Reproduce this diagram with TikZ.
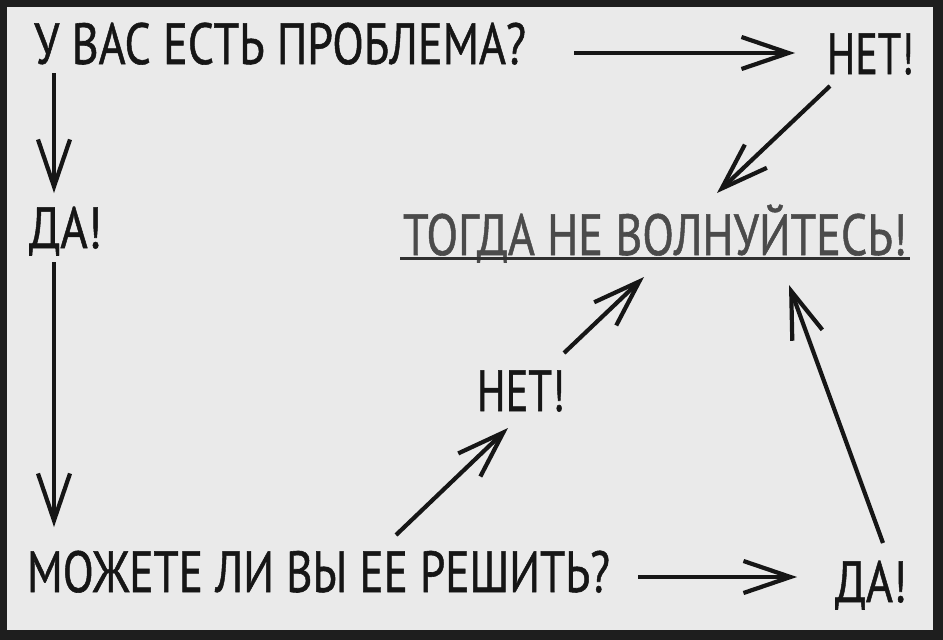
\documentclass[tikz,border=0pt]{standalone}
\usepackage{fontspec}
\setmainfont{PT Sans}
\newfontfamily\lblfont[FakeBold=1]{PT Sans}
\usetikzlibrary{arrows.meta,calc}
\definecolor{paper}{RGB}{234,234,234}
\definecolor{framec}{RGB}{30,30,30}
\definecolor{ink}{RGB}{22,22,22}
\definecolor{soft}{RGB}{75,75,75}
\definecolor{uline}{RGB}{48,48,48}
\newcommand\fitw[2]{\resizebox{#1}{\height}{#2}}
\begin{document}
\begin{tikzpicture}[x=1pt,y=-1pt,
  lbl/.style={inner sep=0pt,outer sep=0pt,anchor=base west,text=ink,
    font=\lblfont\fontsize{58pt}{60pt}\selectfont},
  arr/.style={draw=ink,line width=4.2pt,
    -{Straight Barb[length=47pt,width=32pt]}}]
\useasboundingbox (0,0) rectangle (943,640);
\fill[framec] (0,0) rectangle (943,640);
\fill[paper] (7,7) rectangle (933,630);

% texts
\node[lbl] (q1) at (34,64) {\fitw{492pt}{У ВАС ЕСТЬ ПРОБЛЕМА?}};
\node[lbl] (n1) at (827,74) {\fitw{87pt}{НЕТ!}};
\node[lbl] (d1) at (29,248) {\fitw{73pt}{ДА!}};
\node[lbl,text=soft] (t) at (403,255) {\fitw{504pt}{ТОГДА НЕ ВОЛНУЙТЕСЬ!}};
\node[lbl] (n2) at (477,411) {\fitw{88pt}{НЕТ!}};
\node[lbl] (q2) at (27,592) {\fitw{583pt}{МОЖЕТЕ ЛИ ВЫ ЕЕ РЕШИТЬ?}};
\node[lbl] (d2) at (835,602) {\fitw{72pt}{ДА!}};

% underline
\draw[uline,line width=3pt] ($(t.base west)+(-3,3)$) -- ($(t.base west)+(507,3)$);

% connectors
\draw[arr] ($(q1.base east)+(48,-11)$) -- ($(n1.base west)+(-32,-21)$);
\draw[arr] ($(n1.base west)+(3,12)$) -- ($(t.base west)+(314,-62)$);
\draw[arr] ($(q1.base west)+(20,9)$) -- ($(d1.base west)+(25,-55)$);
\draw[arr] ($(d1.base west)+(25,14)$) -- ($(q2.base west)+(27,-65)$);
\draw[arr] ($(q2.base west)+(369,-57)$) -- ($(n2.base west)+(31,17)$);
\draw[arr] ($(n2.base west)+(87,-58)$) -- ($(t.base west)+(241,22)$);
\draw[arr] ($(q2.base east)+(28,-15)$) -- ($(d2.base west)+(-38,-25)$);
\draw[arr] ($(d2.base west)+(48,-59)$) -- ($(t.base west)+(386,30)$);
\end{tikzpicture}
\end{document}
